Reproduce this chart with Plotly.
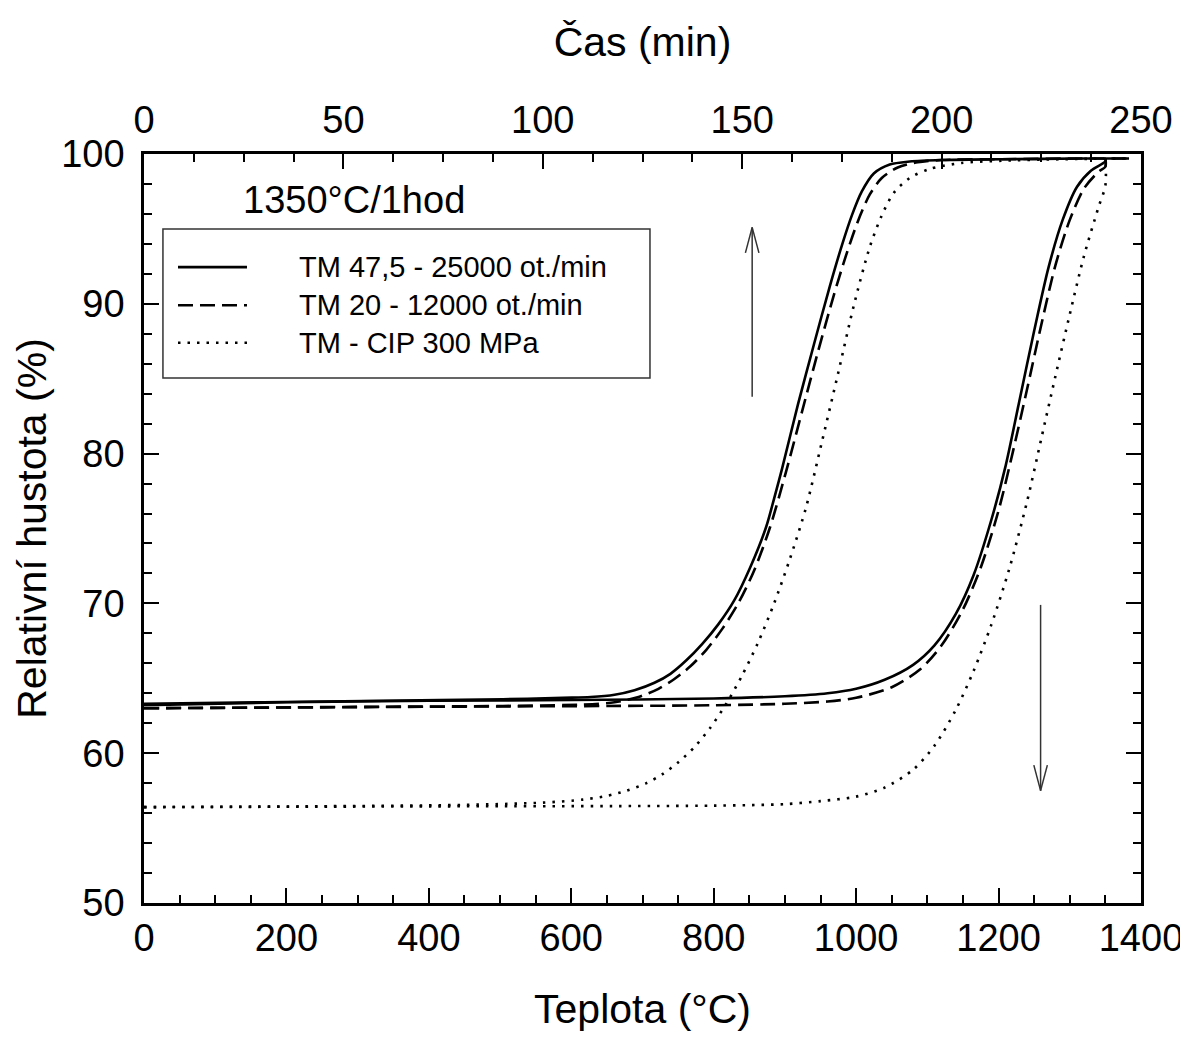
import plotly.graph_objects as go

# ---- data: curves vs time (top axis, min) ----
t_solid = [0, 30, 60, 90, 105, 112, 118, 123, 128, 132, 136, 140, 144, 148, 152, 156, 158, 160, 164, 168,
           172, 175, 177.5, 180, 183, 187, 192, 200, 215, 235, 247]
y_t_solid = [63.3, 63.4, 63.5, 63.6, 63.7, 63.75, 63.9, 64.2, 64.7, 65.3, 66.2, 67.3, 68.6, 70.2, 72.4,
             75.1, 77.0, 79.0, 83.3, 87.3, 91.2, 93.9, 95.9, 97.5, 98.7, 99.3, 99.5, 99.6, 99.65, 99.7, 99.7]

t_dash = [0, 30, 60, 90, 110, 118, 124, 129, 133, 137, 141, 145, 149, 153, 157, 161, 165, 169, 173, 176,
          179, 182, 185, 189, 194, 200, 215, 235, 247]
y_t_dash = [63.0, 63.05, 63.1, 63.15, 63.25, 63.4, 63.75, 64.3, 64.95, 65.8, 66.9, 68.3, 70.0, 72.2, 75.1,
            78.8, 82.8, 86.8, 90.6, 93.2, 95.5, 97.3, 98.4, 99.1, 99.45, 99.6, 99.65, 99.7, 99.7]

t_dot = [0, 40, 80, 100, 110, 116, 121, 126, 130, 134, 138, 142, 146, 150, 154, 158, 162, 166, 170, 174,
         178, 182, 185, 188, 192, 197, 205, 215, 230, 247]
y_t_dot = [56.4, 56.45, 56.55, 56.7, 56.9, 57.15, 57.5, 58.0, 58.6, 59.4, 60.4, 61.7, 63.3, 65.2, 67.4,
           70.0, 73.0, 76.4, 80.8, 85.3, 89.9, 93.8, 95.9, 97.4, 98.4, 99.0, 99.4, 99.55, 99.65, 99.7]

# ---- data: curves vs temperature (bottom axis, °C) ----
T_solid = [0, 200, 400, 600, 800, 900, 960, 1000, 1040, 1080, 1110, 1140, 1165, 1190, 1210, 1230, 1250,
           1270, 1290, 1310, 1330, 1350, 1350]
y_T_solid = [63.2, 63.4, 63.5, 63.55, 63.65, 63.8, 64.0, 64.3, 64.9, 65.9, 67.2, 69.3, 71.9, 75.6, 79.2,
             83.7, 88.2, 92.4, 95.6, 97.8, 98.9, 99.5, 99.7]

T_dash = [0, 400, 800, 900, 960, 1000, 1050, 1090, 1120, 1150, 1175, 1200, 1220, 1240, 1260, 1280, 1300,
          1320, 1340, 1350, 1350]
y_T_dash = [63.0, 63.1, 63.2, 63.3, 63.45, 63.7, 64.4, 65.6, 67.2, 69.6, 72.4, 76.2, 80.1, 84.3, 88.6,
            92.6, 95.6, 97.7, 98.8, 99.15, 99.7]

T_dot = [0, 400, 800, 900, 950, 1000, 1040, 1080, 1110, 1140, 1165, 1190, 1215, 1240, 1260, 1280, 1300,
         1320, 1340, 1350, 1350]
y_T_dot = [56.4, 56.45, 56.5, 56.6, 56.8, 57.1, 57.7, 58.9, 60.5, 62.9, 65.5, 68.6, 72.3, 76.8, 81.0,
           85.2, 89.3, 93.2, 96.4, 97.9, 99.7]

series_names = ["TM 47,5 - 25000 ot./min", "TM 20 - 12000 ot./min", "TM - CIP 300 MPa"]
annotation_text = "1350°C/1hod"
x_title = "Teplota (°C)"
x2_title = "Čas (min)"
y_title = "Relativní hustota (%)"

FONT = "Liberation Sans, Arial, sans-serif"
DASHES = ["solid", "15px,7px", "2.5px,7px"]

fig = go.Figure()
time_sets = [(t_solid, y_t_solid), (t_dash, y_t_dash), (t_dot, y_t_dot)]
temp_sets = [(T_solid, y_T_solid), (T_dash, y_T_dash), (T_dot, y_T_dot)]
for i, (xs, ys) in enumerate(time_sets):
    fig.add_trace(go.Scatter(x=xs, y=ys, xaxis="x2", yaxis="y", mode="lines", name=series_names[i],
                             showlegend=False, line=dict(color="black", width=2.6, dash=DASHES[i],
                                                         shape="spline", smoothing=0.8)))
for i, (xs, ys) in enumerate(temp_sets):
    fig.add_trace(go.Scatter(x=xs, y=ys, xaxis="x", yaxis="y", mode="lines", name=series_names[i],
                             showlegend=False, line=dict(color="black", width=2.6, dash=DASHES[i],
                                                         shape="spline", smoothing=0.8)))

# manual legend box (paper coords)
shapes = [dict(type="rect", xref="paper", yref="paper", x0=0.019, x1=0.5075, y0=0.701, y1=0.900,
               line=dict(color="#333", width=1.5), fillcolor="white", layer="above")]
rows = [0.849, 0.798, 0.748]
annotations = []
for i, ry in enumerate(rows):
    shapes.append(dict(type="line", xref="paper", yref="paper", x0=0.0341, x1=0.1033, y0=ry, y1=ry,
                       line=dict(color="black", width=2.6, dash=DASHES[i]), layer="above"))
    annotations.append(dict(xref="paper", yref="paper", x=0.1535, y=ry, text=series_names[i],
                            showarrow=False, xanchor="left", yanchor="middle",
                            font=dict(family=FONT, size=29, color="black")))

annotations.append(dict(xref="paper", yref="paper", x=0.2106, y=0.9386, text=annotation_text,
                        showarrow=False, xanchor="center", yanchor="middle",
                        font=dict(family=FONT, size=38, color="black")))

# arrows (bottom axis data coords)
arrow_up = dict(x=854, y0=83.8, y1=95.1)
arrow_dn = dict(x=1259, y0=69.9, y1=57.5)
hw, hh = 9.5, 1.7
for a, sgn in [(arrow_up, 1), (arrow_dn, -1)]:
    shapes.append(dict(type="line", xref="x", yref="y", x0=a["x"], x1=a["x"], y0=a["y0"], y1=a["y1"],
                       line=dict(color="#333", width=1.5)))
    shapes.append(dict(type="line", xref="x", yref="y", x0=a["x"] - hw, x1=a["x"], y0=a["y1"] - sgn * hh,
                       y1=a["y1"], line=dict(color="#333", width=1.5)))
    shapes.append(dict(type="line", xref="x", yref="y", x0=a["x"] + hw, x1=a["x"], y0=a["y1"] - sgn * hh,
                       y1=a["y1"], line=dict(color="#333", width=1.5)))

axis_common = dict(showgrid=False, zeroline=False, showline=True, linecolor="black", linewidth=2.5,
                   ticks="inside", ticklen=15, tickwidth=2, tickcolor="black", automargin=False,
                   tickfont=dict(family=FONT, size=38, color="black"))

# page body has an 8px default margin; figure sized so plot frame lands where the reference has it
fig.update_layout(
    width=1180, height=1035,
    margin=dict(l=136, r=47, t=146, b=140),
    paper_bgcolor="white", plot_bgcolor="white",
    font=dict(family=FONT, color="black"),
    showlegend=False,
    xaxis=dict(range=[0, 1400], dtick=200, tick0=0,
               minor=dict(dtick=50, ticks="inside", ticklen=8, tickwidth=2, tickcolor="black"),
               title=dict(text=x_title, font=dict(family=FONT, size=41), standoff=36),
               **axis_common),
    xaxis2=dict(range=[0, 250], dtick=50, tick0=0, overlaying="x", side="top",
                minor=dict(dtick=12.5, ticks="inside", ticklen=8, tickwidth=2, tickcolor="black"),
                title=dict(text=x2_title, font=dict(family=FONT, size=41), standoff=30),
                ticklabelstandoff=3,
                **axis_common),
    yaxis=dict(range=[50, 100], dtick=10, tick0=50, mirror="ticks",
               minor=dict(dtick=2, ticks="inside", ticklen=8, tickwidth=2, tickcolor="black"),
               title=dict(text=y_title, font=dict(family=FONT, size=41), standoff=2),
               ticklabelstandoff=9,
               **axis_common),
    shapes=shapes,
    annotations=annotations,
)

fig.write_html("out.html")
